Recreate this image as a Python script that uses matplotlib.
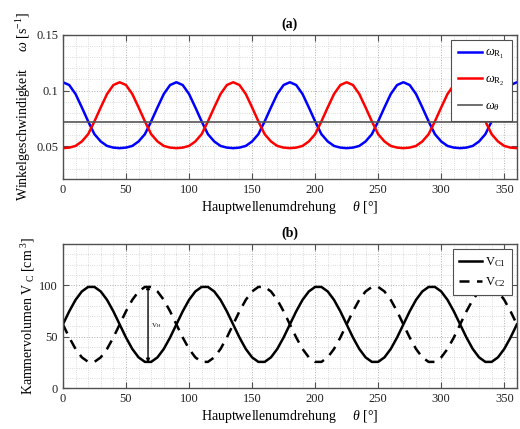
import numpy as np
import matplotlib
matplotlib.use("Agg")
import matplotlib.pyplot as plt
from matplotlib.ticker import MultipleLocator

plt.rcParams['font.family'] = ['Liberation Serif', 'DejaVu Serif']
plt.rcParams['mathtext.fontset'] = 'custom'
plt.rcParams['mathtext.rm'] = 'Liberation Serif'
plt.rcParams['mathtext.it'] = 'Liberation Serif:italic'
plt.rcParams['mathtext.bf'] = 'Liberation Serif:bold'

# crank angle (deg), 5 deg steps
theta = list(range(0, 365, 5))

# angular velocities
omega_r1 = [0.1075, 0.105, 0.097, 0.085, 0.0725, 0.061, 0.0545, 0.0505, 0.049, 0.0485, 0.049, 0.0505, 0.0545, 0.061, 0.0725, 0.085, 0.097, 0.105,
            0.1075, 0.105, 0.097, 0.085, 0.0725, 0.061, 0.0545, 0.0505, 0.049, 0.0485, 0.049, 0.0505, 0.0545, 0.061, 0.0725, 0.085, 0.097, 0.105,
            0.1075, 0.105, 0.097, 0.085, 0.0725, 0.061, 0.0545, 0.0505, 0.049, 0.0485, 0.049, 0.0505, 0.0545, 0.061, 0.0725, 0.085, 0.097, 0.105,
            0.1075, 0.105, 0.097, 0.085, 0.0725, 0.061, 0.0545, 0.0505, 0.049, 0.0485, 0.049, 0.0505, 0.0545, 0.061, 0.0725, 0.085, 0.097, 0.105,
            0.1075]
omega_r2 = [0.0485, 0.049, 0.0505, 0.0545, 0.061, 0.0725, 0.085, 0.097, 0.105, 0.1075, 0.105, 0.097, 0.085, 0.0725, 0.061, 0.0545, 0.0505, 0.049,
            0.0485, 0.049, 0.0505, 0.0545, 0.061, 0.0725, 0.085, 0.097, 0.105, 0.1075, 0.105, 0.097, 0.085, 0.0725, 0.061, 0.0545, 0.0505, 0.049,
            0.0485, 0.049, 0.0505, 0.0545, 0.061, 0.0725, 0.085, 0.097, 0.105, 0.1075, 0.105, 0.097, 0.085, 0.0725, 0.061, 0.0545, 0.0505, 0.049,
            0.0485, 0.049, 0.0505, 0.0545, 0.061, 0.0725, 0.085, 0.097, 0.105, 0.1075, 0.105, 0.097, 0.085, 0.0725, 0.061, 0.0545, 0.0505, 0.049,
            0.0485]
omega_theta = 0.072

# chamber volumes
v_c1 = [62, 74.7, 85.8, 94.0, 98.4, 98.4, 94.0, 85.8, 74.7, 62, 49.3, 38.2, 30.0, 25.6, 25.6, 30.0, 38.2, 49.3,
        62, 74.7, 85.8, 94.0, 98.4, 98.4, 94.0, 85.8, 74.7, 62, 49.3, 38.2, 30.0, 25.6, 25.6, 30.0, 38.2, 49.3,
        62, 74.7, 85.8, 94.0, 98.4, 98.4, 94.0, 85.8, 74.7, 62, 49.3, 38.2, 30.0, 25.6, 25.6, 30.0, 38.2, 49.3,
        62, 74.7, 85.8, 94.0, 98.4, 98.4, 94.0, 85.8, 74.7, 62, 49.3, 38.2, 30.0, 25.6, 25.6, 30.0, 38.2, 49.3,
        62]
v_c2 = [62, 49.3, 38.2, 30.0, 25.6, 25.6, 30.0, 38.2, 49.3, 62, 74.7, 85.8, 94.0, 98.4, 98.4, 94.0, 85.8, 74.7,
        62, 49.3, 38.2, 30.0, 25.6, 25.6, 30.0, 38.2, 49.3, 62, 74.7, 85.8, 94.0, 98.4, 98.4, 94.0, 85.8, 74.7,
        62, 49.3, 38.2, 30.0, 25.6, 25.6, 30.0, 38.2, 49.3, 62, 74.7, 85.8, 94.0, 98.4, 98.4, 94.0, 85.8, 74.7,
        62, 49.3, 38.2, 30.0, 25.6, 25.6, 30.0, 38.2, 49.3, 62, 74.7, 85.8, 94.0, 98.4, 98.4, 94.0, 85.8, 74.7,
        62]

# stroke volume marker
vh_theta = 67.5
vh_low, vh_high = 25, 100

frame_col = '#505050'


def style_axes(ax, ymin, ymax, ymaj, ymin_step):
    ax.set_xlim(0, 360)
    ax.set_ylim(ymin, ymax)
    ax.xaxis.set_major_locator(MultipleLocator(50))
    ax.xaxis.set_minor_locator(MultipleLocator(10))
    ax.yaxis.set_major_locator(MultipleLocator(ymaj))
    ax.yaxis.set_minor_locator(MultipleLocator(ymin_step))
    ax.grid(which='major', linestyle=':', color='#b0b0b0', linewidth=0.7)
    ax.grid(which='minor', linestyle=':', color='#d0d0d0', linewidth=0.6)
    ax.set_axisbelow(True)
    ax.tick_params(which='both', direction='in', top=True, right=True,
                   colors=frame_col, labelcolor='#222222', labelsize=9)
    ax.tick_params(which='major', length=4)
    ax.tick_params(which='minor', length=0)
    for s in ax.spines.values():
        s.set_color(frame_col)
        s.set_linewidth(1.0)
    ax.set_xlabel(r'Hauptwellenumdrehung     $\theta$ [°]', fontsize=10, labelpad=2)


fig = plt.figure(figsize=(5.2, 4.29), dpi=100)
ax1 = fig.add_axes([0.121, 0.583, 0.873, 0.336])
ax2 = fig.add_axes([0.121, 0.095, 0.873, 0.336])

# panel (a)
ax1.plot(theta, omega_r1, color='#0000ff', linewidth=1.8, label=r'$\omega_{\mathrm{R}_1}$')
ax1.plot(theta, omega_r2, color='#ff0000', linewidth=1.8, label=r'$\omega_{\mathrm{R}_2}$')
ax1.axhline(omega_theta, color='#555555', linewidth=1.2, label=r'$\omega_{\theta}$')
style_axes(ax1, 0.021, 0.15, 0.05, 0.01)
ax1.yaxis.set_major_formatter(matplotlib.ticker.FuncFormatter(lambda v, p: f'{v:g}'))
ax1.set_title('(a)', fontsize=10, fontweight='bold', pad=5)
ax1.set_ylabel(r'Winkelgeschwindigkeit     $\omega$ [s$^{-1}$]', fontsize=10, labelpad=2)
leg1 = ax1.legend(loc='upper right', fontsize=9, handlelength=1.9, labelspacing=1.0,
                  borderpad=0.6, fancybox=False, framealpha=1, borderaxespad=0.4,
                  handletextpad=0.25)
leg1.get_frame().set_edgecolor(frame_col)
leg1.get_frame().set_linewidth(0.8)

# panel (b)
ax2.plot(theta, v_c1, color='black', linewidth=1.8, label=r'V$_{\mathrm{C1}}$')
ax2.plot(theta, v_c2, color='black', linewidth=1.8, linestyle=(0, (4, 3)), label=r'V$_{\mathrm{C2}}$')
ax2.annotate('', xy=(vh_theta, vh_high), xytext=(vh_theta, vh_low),
             arrowprops=dict(arrowstyle='<|-|>', color='black', lw=1.0,
                             mutation_scale=5, shrinkA=0, shrinkB=0))
ax2.text(vh_theta + 2, (vh_low + vh_high) / 2 - 2, r'V$_{\mathrm{H}}$', fontsize=5, va='center')
style_axes(ax2, 0, 140, 50, 10)
ax2.set_title('(b)', fontsize=10, fontweight='bold', pad=5)
ax2.set_ylabel(r'Kammervolumen V$_{\ \mathrm{C}}$ [cm$^{\ 3}$]', fontsize=10, labelpad=2)
leg2 = ax2.legend(loc='upper right', fontsize=9, handlelength=1.8, labelspacing=0.5,
                  borderpad=0.5, fancybox=False, framealpha=1, borderaxespad=0.4,
                  handletextpad=0.25)
leg2.get_frame().set_edgecolor(frame_col)
leg2.get_frame().set_linewidth(0.8)

fig.savefig('out.png', dpi=100)
